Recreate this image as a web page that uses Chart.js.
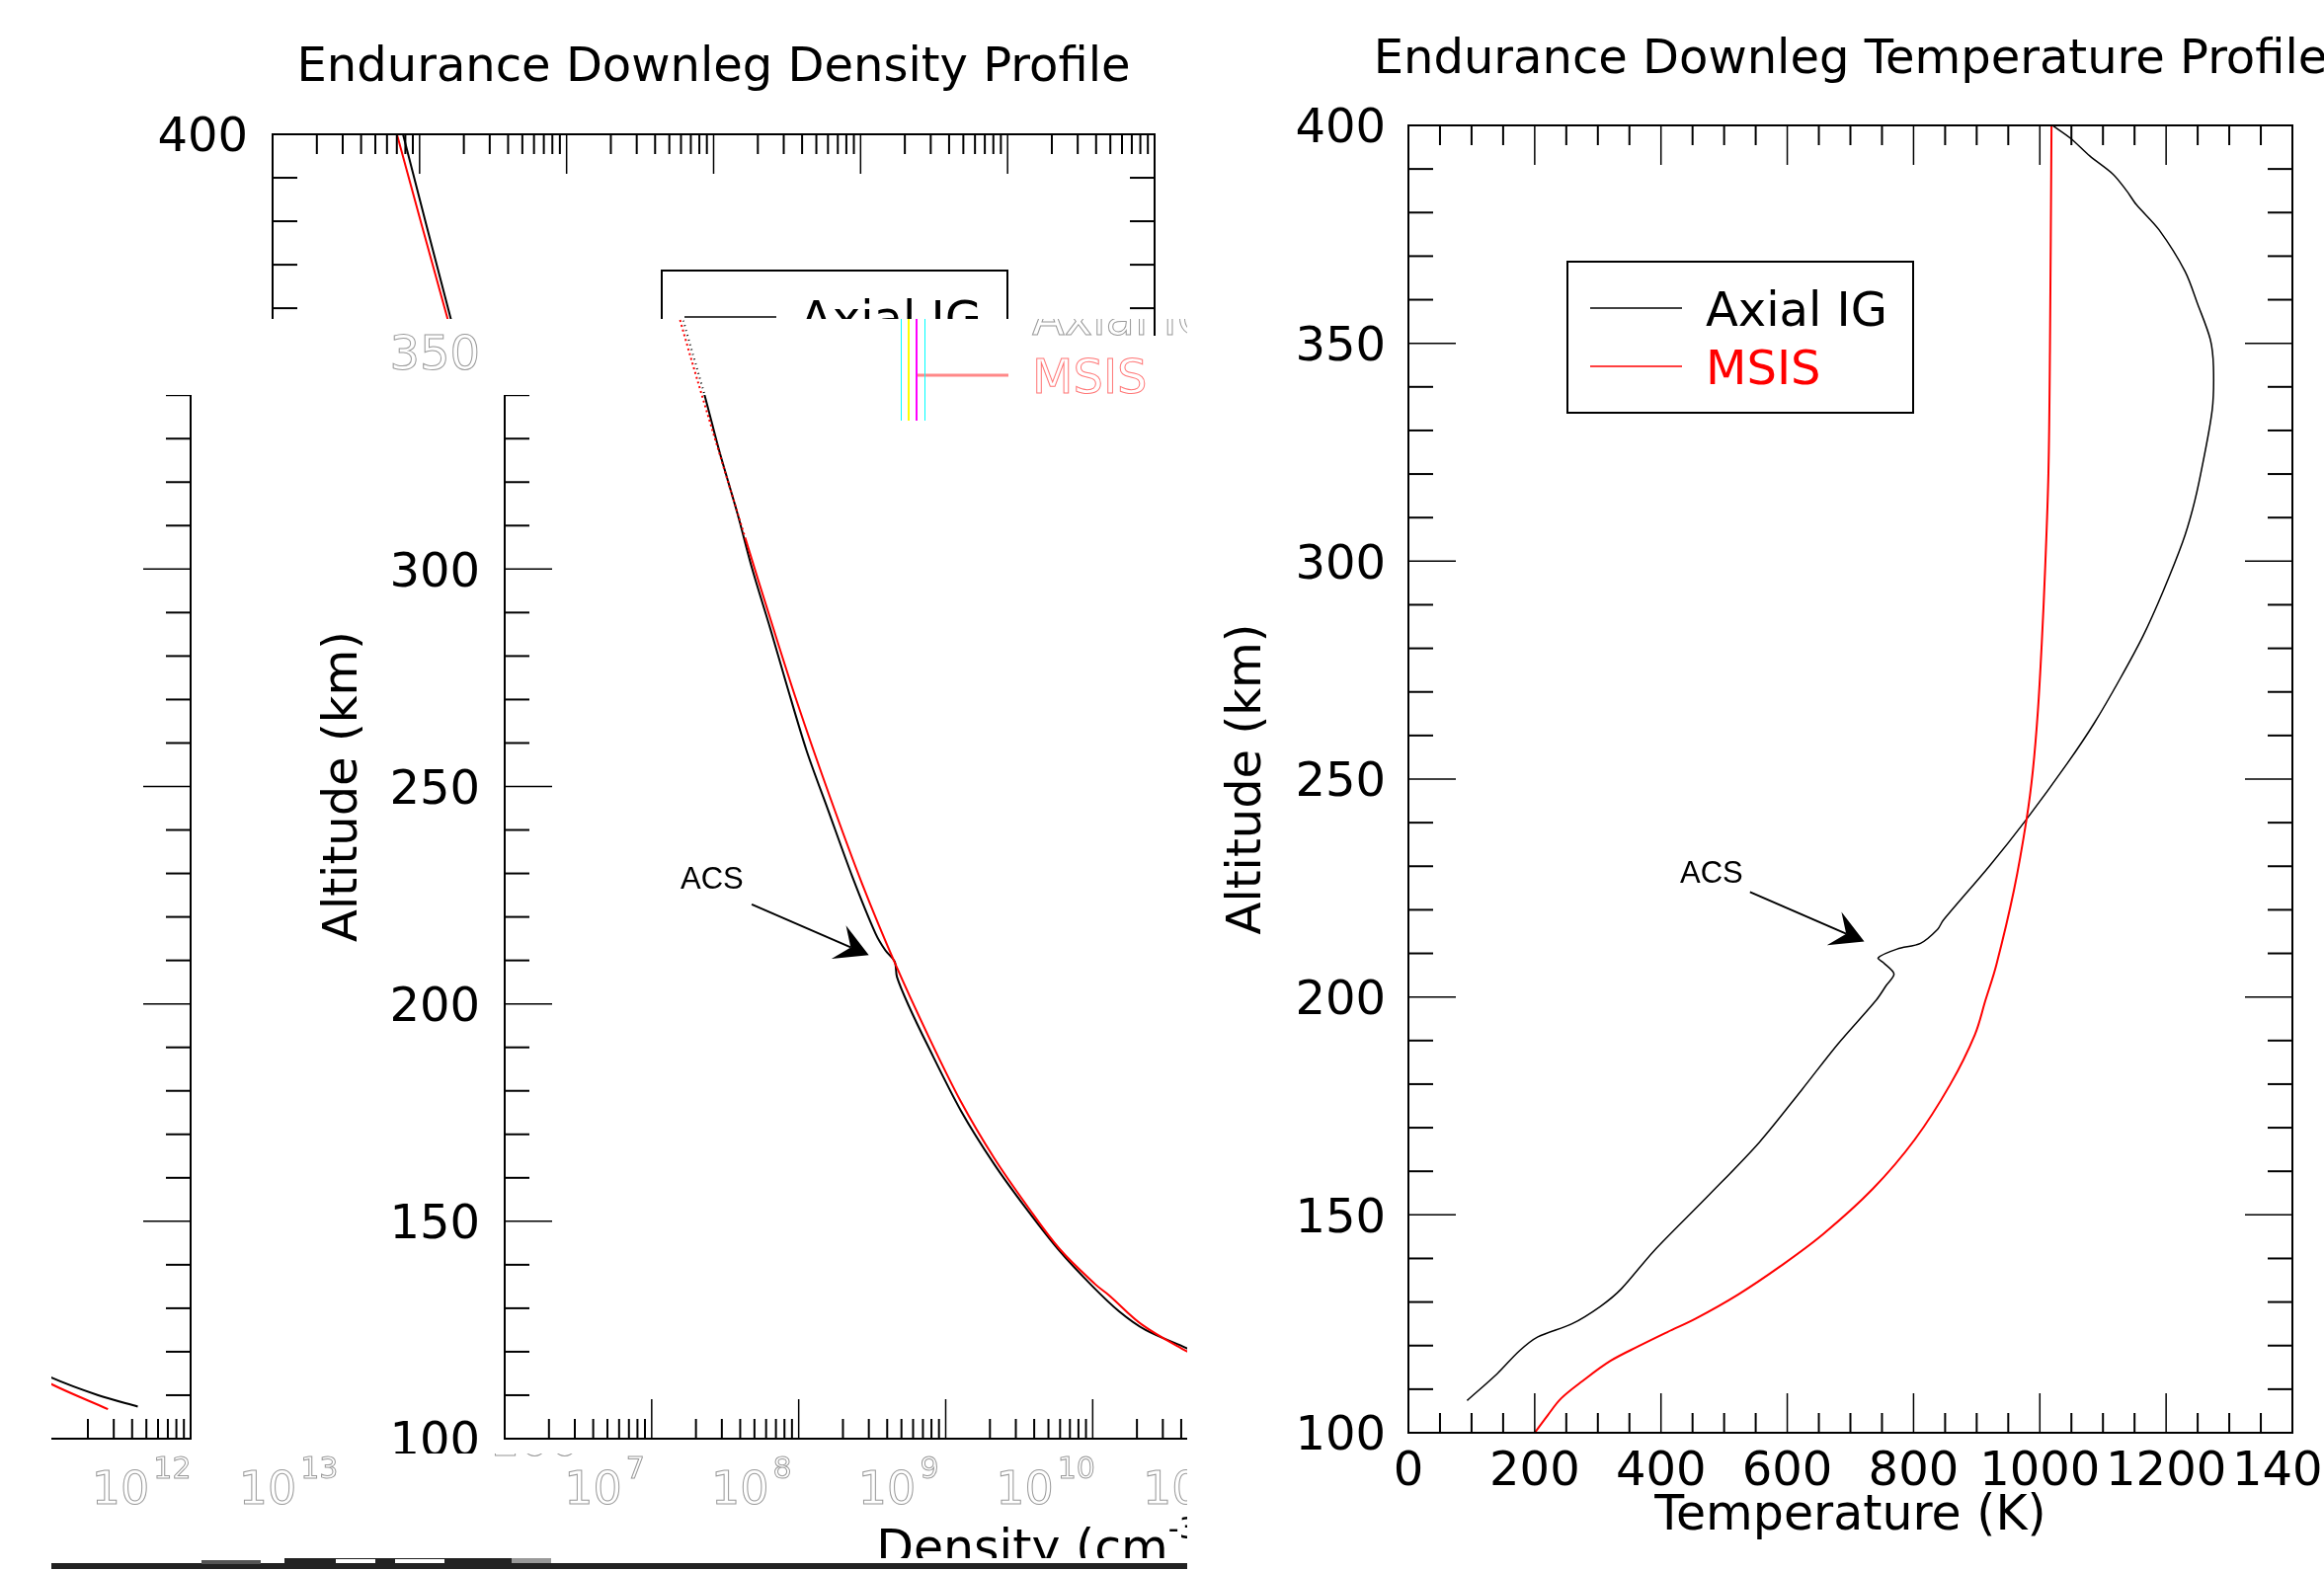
<!DOCTYPE html>
<html>
<head>
<meta charset="utf-8">
<title>Endurance Downleg Profiles</title>
<script src="https://cdn.jsdelivr.net/npm/chart.js@4"></script>
<style>
  html, body { margin: 0; padding: 0; background: #fff; overflow: hidden; }
  #page { position: relative; width: 2353px; height: 1591px; overflow: hidden; background: #fff; }
  .tile { position: absolute; overflow: hidden; }
  .tile canvas { position: absolute; }
  .scrap { position: absolute; }
</style>
</head>
<body>
<div id="page"></div>
<script>
// ==================== Data ====================
const densAxialAlt = [400, 357.6, 340, 327.2, 312.8, 300, 286.3, 273.4, 258.3, 244.7, 229.2, 216.2, 212.3, 209.7, 206.2, 199.7, 190.2, 175.4, 163.1, 152.7, 143.1, 135, 129.3, 125, 120.8, 114.1, 110, 107.4];
const densAxial = [7.71e7, 1.63e8, 2.29e8, 2.88e8, 3.83e8, 4.83e8, 6.41e8, 8.28e8, 1.13e9, 1.58e9, 2.32e9, 3.33e9, 3.89e9, 4.50e9, 4.66e9, 5.58e9, 7.60e9, 1.27e10, 2.14e10, 3.57e10, 5.97e10, 1.00e11, 1.51e11, 2.29e11, 4.36e11, 1.12e12, 2.35e12, 4.37e12];
const densMsisAlt = [400, 357.6, 339, 306.8, 288.6, 269.7, 247.9, 227.5, 209.2, 192.7, 177.5, 164.5, 153.6, 143.6, 135.4, 133, 126.2, 120.1, 112.6, 106.8];
const densMsis = [7.01e7, 1.55e8, 2.24e8, 4.36e8, 6.41e8, 9.68e8, 1.62e9, 2.71e9, 4.54e9, 7.60e9, 1.27e10, 2.14e10, 3.57e10, 5.97e10, 1.05e11, 1.29e11, 2.17e11, 4.36e11, 1.12e12, 2.74e12];

const tempAxialAlt = [400, 397, 393, 388.8, 384.9, 381.8, 376, 366.5, 359, 350.9, 344.6, 334.7, 320.2, 311.9, 304.3, 293, 283, 273, 262.8, 253.7, 240.8, 230, 217.6, 215.5, 212.3, 211, 209, 207.9, 205.3, 202.7, 199.3, 189, 178.7, 166.7, 154.7, 141.6, 133, 129, 125, 122, 118.7, 113.6, 107.4];
const tempAxial = [1020, 1049, 1079, 1116, 1138, 1153, 1189, 1230, 1250, 1270, 1275, 1273, 1255, 1242, 1226, 1195, 1164, 1127, 1086, 1044, 979, 920, 847, 838, 811, 774, 744, 752, 769, 757, 741, 679, 623, 556, 477, 388, 337, 304, 259, 205, 175, 141, 93];
const tempMsisAlt = [400, 348, 320.2, 298.3, 281, 265.8, 252, 240.8, 224.5, 207.3, 199.3, 191.3, 179.9, 167.3, 155.9, 145.6, 138.2, 131.7, 126.2, 123.1, 119.9, 116.5, 111.9, 107.9, 103.9, 100];
const tempMsis = [1018.5, 1016, 1013.6, 1008.4, 1003, 997, 989, 979, 959, 931, 914, 897, 858, 802, 735, 657, 589, 522, 455, 410, 365, 320, 276, 242, 220, 200];

const altMajorTicks = [100, 150, 200, 250, 300, 350, 400];
const altMinorTicks = [110, 120, 130, 140, 160, 170, 180, 190, 210, 220, 230, 240, 260, 270, 280, 290, 310, 320, 330, 340, 360, 370, 380, 390];
const tempMajorTicks = [0, 200, 400, 600, 800, 1000, 1200, 1400];
const tempMinorTicks = [50, 100, 150, 250, 300, 350, 450, 500, 550, 650, 700, 750, 850, 900, 950, 1050, 1100, 1150, 1250, 1300, 1350];
const densExponents = [7, 8, 9, 10, 11, 12, 13];
const seriesNames = ['Axial IG', 'MSIS'];

// ACS pointer, as [label, arrow start, arrow tip] in data values
const densAcsX = [2.57e8, 4.79e8, 3.0e9];
const densAcsAlt = [228.8, 222.9, 211.2];
const tempAcsX = [480, 541, 722];
const tempAcsAlt = [228.6, 224.1, 212.7];

const FONT = '"DejaVu Sans"';
const page = document.getElementById('page');

function toPoints(xs, alts) {
  return xs.map((x, i) => ({ x: x, y: alts[i] }));
}

function densMinorTicks() {
  const out = [];
  densExponents.slice(0, -1).forEach(e => {
    for (let m = 2; m < 10; m++) out.push(Number(m + 'e' + e));
  });
  return out;
}

// ==================== Frame, ticks, legend, pointer ====================
function hollowOrSolid(ctx, text, x, y, opts, color) {
  if (opts.hollow) {
    ctx.lineWidth = 1;
    ctx.strokeStyle = color === '#000' ? '#999' : '#ff7777';
    ctx.strokeText(text, x, y);
  } else {
    ctx.fillStyle = color;
    ctx.fillText(text, x, y);
  }
}

function drawAxisTicks(ctx, chart, o) {
  const { left, right, top, bottom } = chart.chartArea;
  const { x, y } = chart.scales;
  ctx.strokeStyle = '#000';
  ctx.lineWidth = 2;
  ctx.strokeRect(left, top, right - left, bottom - top);
  const line = (x1, y1, x2, y2) => {
    ctx.beginPath();
    ctx.moveTo(x1, y1);
    ctx.lineTo(x2, y2);
    ctx.stroke();
  };
  o.yMinor.forEach(v => {
    const p = y.getPixelForValue(v);
    line(left, p, left + 25, p);
    line(right, p, right - 25, p);
  });
  o.xMinor.forEach(v => {
    const p = x.getPixelForValue(v);
    line(p, bottom, p, bottom - 20);
    line(p, top, p, top + 20);
  });
  ctx.lineWidth = 1.5;
  o.yMajor.forEach(v => {
    const p = y.getPixelForValue(v);
    line(left, p, left + 48, p);
    line(right, p, right - 48, p);
  });
  o.xMajor.forEach(v => {
    const p = x.getPixelForValue(v);
    line(p, bottom, p, bottom - 40);
    line(p, top, p, top + 40);
  });
}

function drawLegend(ctx, chart, o) {
  const { left, top } = chart.chartArea;
  const bx = left + o.legendDx, by = top + 138;
  if (!o.hollow) {
    ctx.strokeStyle = '#000';
    ctx.lineWidth = 2;
    ctx.strokeRect(bx, by, 350, 153);
  }
  ctx.font = '48px ' + FONT;
  ctx.textAlign = 'left';
  ctx.textBaseline = 'alphabetic';
  seriesNames.forEach((name, i) => {
    const ly = by + 47 + i * 59;
    const color = i === 0 ? '#000' : '#f00';
    ctx.strokeStyle = o.hollow && i === 1 ? '#ff8888' : color;
    ctx.lineWidth = o.hollow ? 3 : 1.5;
    ctx.beginPath();
    ctx.moveTo(bx + 23, ly);
    ctx.lineTo(bx + 116, ly);
    ctx.stroke();
    hollowOrSolid(ctx, name, bx + 140, ly + 18, o, color);
  });
}

function drawPointer(ctx, chart, o) {
  const { x, y } = chart.scales;
  const px = o.acsX.map(v => x.getPixelForValue(v));
  const py = o.acsAlt.map(v => y.getPixelForValue(v));
  ctx.font = '31px "Liberation Sans"';
  ctx.fillStyle = '#000';
  ctx.textAlign = 'center';
  ctx.textBaseline = 'middle';
  ctx.fillText('ACS', px[0], py[0] + 2);

  const ang = Math.atan2(py[2] - py[1], px[2] - px[1]);
  ctx.strokeStyle = '#000';
  ctx.lineWidth = 2;
  ctx.beginPath();
  ctx.moveTo(px[1], py[1]);
  ctx.lineTo(px[2] - 20 * Math.cos(ang), py[2] - 20 * Math.sin(ang));
  ctx.stroke();
  const spread = 29 * Math.PI / 180;
  ctx.beginPath();
  ctx.moveTo(px[2], py[2]);
  ctx.lineTo(px[2] - 38 * Math.cos(ang - spread), py[2] - 38 * Math.sin(ang - spread));
  ctx.lineTo(px[2] - 20 * Math.cos(ang), py[2] - 20 * Math.sin(ang));
  ctx.lineTo(px[2] - 38 * Math.cos(ang + spread), py[2] - 38 * Math.sin(ang + spread));
  ctx.closePath();
  ctx.fill();
}

function drawExpLabels(ctx, chart, o) {
  const { bottom } = chart.chartArea;
  const { x } = chart.scales;
  ctx.textBaseline = 'alphabetic';
  ctx.textAlign = 'left';
  densExponents.forEach(e => {
    const p = x.getPixelForValue(Number('1e' + e));
    ctx.font = '46px ' + FONT;
    const w1 = ctx.measureText('10').width;
    ctx.font = '30px ' + FONT;
    const w2 = ctx.measureText(String(e)).width;
    const start = p - (w1 + w2 + 4) / 2;
    ctx.font = '46px ' + FONT;
    hollowOrSolid(ctx, '10', start, bottom + 66, o, '#000');
    ctx.font = '30px ' + FONT;
    hollowOrSolid(ctx, String(e), start + w1 + 4, bottom + 40, o, '#000');
  });
}

function drawDensityTitle(ctx, chart) {
  const { left, right, bottom } = chart.chartArea;
  const mid = (left + right) / 2;
  ctx.textBaseline = 'alphabetic';
  ctx.textAlign = 'left';
  ctx.fillStyle = '#000';
  ctx.font = '49px ' + FONT;
  const w1 = ctx.measureText('Density (cm').width;
  const w3 = ctx.measureText(')').width;
  ctx.font = '30px ' + FONT;
  const w2 = ctx.measureText('-3').width;
  const start = mid - (w1 + w2 + w3) / 2;
  ctx.font = '49px ' + FONT;
  ctx.fillText('Density (cm', start, bottom + 103);
  ctx.fillText(')', start + w1 + w2, bottom + 103);
  ctx.font = '30px ' + FONT;
  ctx.fillText('-3', start + w1, bottom + 77);
}

// the built-in title shrinks to the plot width, this one has to run past the page edge
function drawPlotTitle(ctx, chart, o) {
  const { left, right } = chart.chartArea;
  ctx.textAlign = 'center';
  ctx.textBaseline = 'alphabetic';
  ctx.fillStyle = '#000';
  ctx.font = '48px ' + FONT;
  ctx.fillText(o.titleText, (left + right) / 2, o.titleBase);
}

const profilePlugin = {
  id: 'profile',
  afterDatasetsDraw(chart, args, o) {
    const ctx = chart.ctx;
    ctx.save();
    if (o.frame) drawAxisTicks(ctx, chart, o);
    if (o.legend) drawLegend(ctx, chart, o);
    if (o.pointer) drawPointer(ctx, chart, o);
    if (o.expLabels) drawExpLabels(ctx, chart, o);
    if (o.densTitle) drawDensityTitle(ctx, chart);
    if (o.plotTitle) drawPlotTitle(ctx, chart, o);
    ctx.restore();
  }
};

// ==================== Chart builder ====================
function buildChart(holder, width, cfg, view) {
  const canvas = document.createElement('canvas');
  canvas.width = width;
  canvas.height = 1591;
  canvas.style.width = width + 'px';
  canvas.style.height = '1591px';
  canvas.style.left = view.canvasLeft + 'px';
  canvas.style.top = view.canvasTop + 'px';
  holder.appendChild(canvas);

  const tickColor = view.hollow || !view.yLabels ? 'rgba(0,0,0,0)' : '#000';
  new Chart(canvas.getContext('2d'), {
    type: 'scatter',
    data: {
      datasets: [
        {
          label: seriesNames[0],
          data: view.curves ? cfg.axial : [],
          showLine: true, pointRadius: 0, tension: 0.3, order: 1,
          borderColor: '#000', borderWidth: cfg.axialWidth,
          borderDash: view.blackDash || []
        },
        {
          label: seriesNames[1],
          data: view.curves ? cfg.msis : [],
          showLine: true, pointRadius: 0, tension: 0.35, order: 0,
          borderColor: '#f00', borderWidth: 2,
          borderDash: view.redDash || []
        }
      ]
    },
    options: {
      responsive: false,
      animation: false,
      devicePixelRatio: 1,
      layout: { padding: { left: cfg.padLeft, right: cfg.padRight, top: cfg.padTop, bottom: 0 } },
      plugins: {
        legend: { display: false },
        tooltip: { enabled: false },
        title: { display: false },
        profile: {
          frame: view.frame, legend: view.legend, pointer: view.pointer,
          expLabels: view.expLabels, densTitle: view.densTitle, hollow: view.hollow,
          plotTitle: view.plotTitle, titleText: cfg.title, titleBase: cfg.titleBase,
          yMajor: altMajorTicks, yMinor: altMinorTicks,
          xMajor: cfg.xMajor, xMinor: cfg.xMinor,
          legendDx: cfg.legendDx, acsX: cfg.acsX, acsAlt: cfg.acsAlt
        }
      },
      scales: {
        x: {
          type: cfg.xType, min: cfg.xMin, max: cfg.xMax, position: 'bottom',
          grid: { display: false },
          border: { display: false },
          afterFit(scale) { scale.height = cfg.xHeight; scale.paddingLeft = 0; scale.paddingRight = 0; },
          ticks: {
            display: !!cfg.xTicks, autoSkip: false, maxRotation: 0, padding: 4, stepSize: 200,
            color: '#000', font: { family: FONT, size: 48 },
            callback: v => String(v)
          },
          title: {
            display: !!cfg.xTitle, text: cfg.xTitle, color: '#000',
            font: { family: FONT, size: 49, lineHeight: 1.2 }, padding: { top: 0, bottom: 25 }
          }
        },
        y: {
          type: 'linear', min: 100, max: 400, position: 'left',
          grid: { display: false },
          border: { display: false },
          afterFit(scale) { scale.width = 191; scale.paddingTop = 0; scale.paddingBottom = 0; },
          ticks: {
            stepSize: 50, padding: cfg.yTickPad, labelOffset: 5, color: tickColor,
            textStrokeColor: view.hollow ? '#999' : 'rgba(0,0,0,0)',
            textStrokeWidth: view.hollow ? 1 : 0,
            font: { family: FONT, size: 48 }
          },
          title: {
            display: !!view.yTitle, text: 'Altitude (km)', color: '#000',
            font: { family: FONT, size: 48, lineHeight: 1.2 }, padding: 0
          }
        }
      }
    },
    plugins: [profilePlugin]
  });
}

function addTile(cfg, width, clip, view) {
  const div = document.createElement('div');
  div.className = 'tile';
  div.style.left = clip.x0 + 'px';
  div.style.top = clip.y0 + 'px';
  div.style.width = (clip.x1 - clip.x0) + 'px';
  div.style.height = (clip.y1 - clip.y0) + 'px';
  page.appendChild(div);
  view.canvasLeft = view.dx - clip.x0;
  view.canvasTop = (view.dy || 0) - clip.y0;
  buildChart(div, width, cfg, view);
}

function addScrap(x, y, w, h, color) {
  const d = document.createElement('div');
  d.className = 'scrap';
  d.style.cssText = `left:${x}px;top:${y}px;width:${w}px;height:${h}px;background:${color}`;
  page.appendChild(d);
}

// ==================== Density panel, its pieces as in the picture ====================
const densCfg = {
  title: 'Endurance Downleg Density Profile',
  axial: toPoints(densAxial, densAxialAlt),
  msis: toPoints(densMsis, densMsisAlt),
  axialWidth: 2,
  padLeft: 85, padRight: 81, padTop: 136, titleBase: 82, xHeight: 134, yTickPad: 17,
  xType: 'logarithmic', xMin: 1e7, xMax: 1e13,
  xMajor: densExponents.map(e => Number('1e' + e)),
  xMinor: densMinorTicks(),
  legendDx: 394,
  acsX: densAcsX, acsAlt: densAcsAlt
};
const DENS_W = 1250;
const solidView = { frame: true, legend: true, pointer: true, curves: true, yLabels: true, yTitle: true };

addTile(densCfg, DENS_W, { x0: 0, x1: 1210, y0: 0, y1: 323 }, { ...solidView, plotTitle: true, dx: 0 });
addTile(densCfg, DENS_W, { x0: 1160, x1: 1176, y0: 323, y1: 340 }, { ...solidView, dx: 0 });
addTile(densCfg, DENS_W, { x0: 320, x1: 1202, y0: 323, y1: 400 },
  { curves: true, legend: true, hollow: true, yLabels: true, yTitle: true, blackDash: [1, 4], redDash: [2, 3], dx: 235 });
addTile(densCfg, DENS_W, { x0: 320, x1: 1202, y0: 400, y1: 545 }, { ...solidView, legend: false, redDash: [2, 3], dx: 235 });
addTile(densCfg, DENS_W, { x0: 320, x1: 1202, y0: 545, y1: 1472 }, { ...solidView, legend: false, dx: 235 });
addTile(densCfg, DENS_W, { x0: 52, x1: 200, y0: 400, y1: 1472 }, { ...solidView, legend: false, dx: -976 });
addTile(densCfg, DENS_W, { x0: 490, x1: 1202, y0: 1472, y1: 1527 }, { expLabels: true, hollow: true, yLabels: true, dx: 336 });
addTile(densCfg, DENS_W, { x0: 52, x1: 345, y0: 1472, y1: 1527 }, { expLabels: true, hollow: true, dx: -877 });
addTile(densCfg, DENS_W, { x0: 880, x1: 1202, y0: 1535, y1: 1578 }, { densTitle: true, dx: 337, dy: 24 });

// leftover streaks of the broken image
addScrap(912, 323, 1, 103, '#00ffff');
addScrap(919, 323, 2, 103, '#ffff00');
addScrap(927, 323, 2, 103, '#ff00ff');
addScrap(936, 323, 1, 103, '#00ffff');
addScrap(52, 1583, 1150, 6, '#222');
addScrap(288, 1578, 230, 6, '#222');
addScrap(518, 1578, 40, 5, '#999');
addScrap(204, 1580, 60, 4, '#555');
addScrap(340, 1579, 40, 4, '#fff');
addScrap(400, 1579, 50, 4, '#fff');

// ==================== Temperature panel ====================
const tempCfg = {
  title: 'Endurance Downleg Temperature Profile',
  axial: toPoints(tempAxial, tempAxialAlt),
  msis: toPoints(tempMsis, tempMsisAlt),
  axialWidth: 1.5,
  padLeft: 35, padRight: 32, padTop: 127, titleBase: 74, xHeight: 140, yTickPad: 15,
  xType: 'linear', xMin: 0, xMax: 1400,
  xTicks: tempMajorTicks, xTitle: 'Temperature (K)',
  xMajor: tempMajorTicks, xMinor: tempMinorTicks,
  legendDx: 161,
  acsX: tempAcsX, acsAlt: tempAcsAlt
};
addTile(tempCfg, 1153, { x0: 1200, x1: 2353, y0: 0, y1: 1591 }, { ...solidView, plotTitle: true, dx: 1200 });
</script>
</body>
</html>
